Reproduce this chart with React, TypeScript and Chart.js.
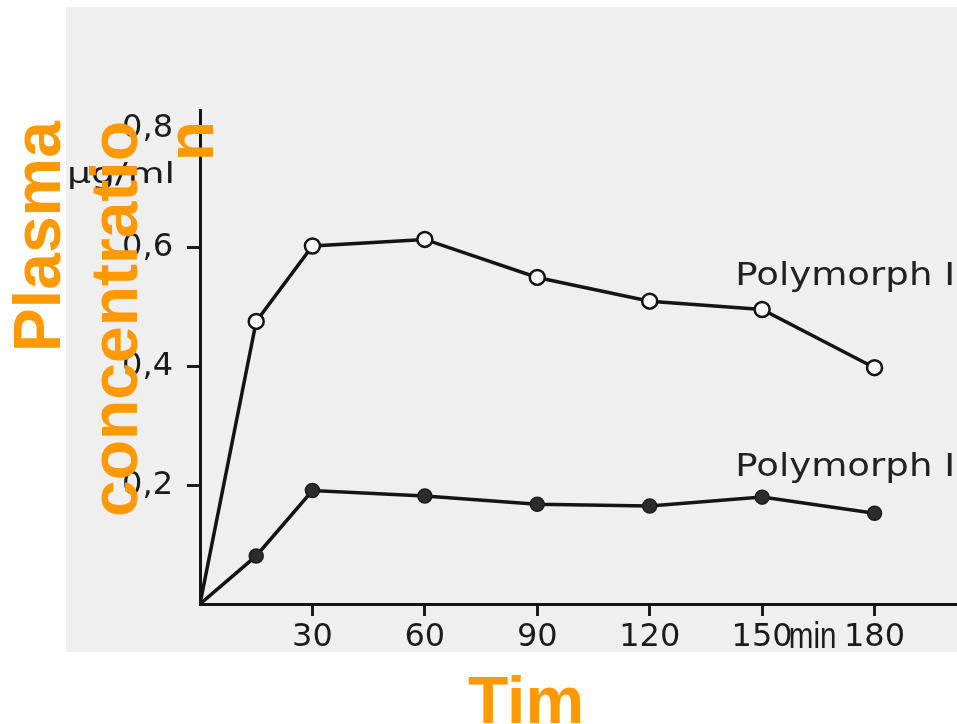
import React, { useEffect, useRef } from "react";
import { Chart, registerables } from "chart.js";

Chart.register(...registerables);

// ---- data ----
const times = [0, 15, 30, 60, 90, 120, 150, 180];
const polymorphII = [0, 0.476, 0.603, 0.614, 0.55, 0.51, 0.496, 0.398];
const polymorphI = [0, 0.081, 0.191, 0.182, 0.168, 0.165, 0.18, 0.153];
const xTickValues = [30, 60, 90, 120, 150, 180];
const yTickValues = [0.2, 0.4, 0.6, 0.8];
const seriesLabels = ["Polymorph II", "Polymorph I"];
const titleLines = ["Plasma", "concentratio", "n"];
const xTitle = "Tim";
const yUnit = "µg/ml";
const xUnit = "min";

const ORANGE = "#FF9900";
const INK = "#1b1b1b";

const decorPlugin = {
  id: "decor",
  beforeDraw(chart: any) {
    const { ctx, chartArea, width, height } = chart;
    ctx.save();
    ctx.fillStyle = "#ffffff";
    ctx.fillRect(0, 0, width, height);
    const left = chartArea.left - 134;
    ctx.fillStyle = "#efefef";
    ctx.fillRect(left, 7, width - left, chartArea.bottom + 48 - 7);
    ctx.restore();
  },
  afterDraw(chart: any) {
    const { ctx } = chart;
    const xs = chart.scales.x;
    const ys = chart.scales.y;
    ctx.save();

    // y unit label
    ctx.fillStyle = INK;
    ctx.textBaseline = "alphabetic";
    ctx.save();
    ctx.font = "28px 'DejaVu Sans'";
    ctx.translate(xs.left - 25, ys.getPixelForValue(0.8) + 54);
    ctx.scale(1.35, 1);
    ctx.textAlign = "right";
    ctx.fillText(yUnit, 0, 0);
    ctx.restore();

    // x unit label
    ctx.save();
    ctx.font = "37px 'Liberation Sans'";
    ctx.translate(xs.getPixelForValue(163.5), ys.bottom + 44);
    ctx.scale(0.8, 1);
    ctx.textAlign = "center";
    ctx.fillText(xUnit, 0, 0);
    ctx.restore();

    // series labels
    const labelPos = [
      { x: 142.8, y: 0.537 },
      { x: 142.8, y: 0.2155 },
    ];
    ctx.font = "32px 'DejaVu Sans'";
    ctx.textAlign = "left";
    seriesLabels.forEach((t, i) => {
      ctx.save();
      ctx.translate(xs.getPixelForValue(labelPos[i].x), ys.getPixelForValue(labelPos[i].y));
      ctx.scale(1.16, 1);
      ctx.fillStyle = "#222";
      ctx.fillText(t, 0, 0);
      ctx.restore();
    });

    // orange overlay titles
    ctx.fillStyle = ORANGE;
    ctx.font = "bold 66px 'Liberation Sans'";
    const baselines = [60, 137, 213];
    titleLines.forEach((t, i) => {
      ctx.save();
      ctx.translate(baselines[i], 121);
      ctx.rotate(-Math.PI / 2);
      ctx.textAlign = "right";
      ctx.textBaseline = "alphabetic";
      ctx.fillText(t, 0, 0);
      ctx.restore();
    });
    ctx.textAlign = "center";
    ctx.textBaseline = "alphabetic";
    ctx.fillText(xTitle, 526, 723);

    ctx.restore();
  },
};

export default function App() {
  const ref = useRef<HTMLCanvasElement | null>(null);

  useEffect(() => {
    if (!ref.current) return;
    const chart = new Chart(ref.current, {
      type: "line",
      data: {
        datasets: [
          {
            label: seriesLabels[0],
            data: times.map((t, i) => ({ x: t, y: polymorphII[i] })),
            borderColor: "#141414",
            borderWidth: 3.5,
            tension: 0,
            pointRadius: (c: any) => (c.dataIndex === 0 ? 0 : 7.5),
            pointBackgroundColor: "#fbfbfb",
            pointBorderColor: "#141414",
            pointBorderWidth: 2.5,
          },
          {
            label: seriesLabels[1],
            data: times.map((t, i) => ({ x: t, y: polymorphI[i] })),
            borderColor: "#141414",
            borderWidth: 3.5,
            tension: 0,
            pointRadius: (c: any) => (c.dataIndex === 0 ? 0 : 7),
            pointBackgroundColor: "#2c2c2c",
            pointBorderColor: "#1c1c1c",
            pointBorderWidth: 1.5,
          },
        ],
      },
      options: {
        responsive: false,
        animation: false,
        devicePixelRatio: 1,
        layout: { autoPadding: false, padding: { top: 110, left: 0, right: 0, bottom: 0 } },
        plugins: {
          legend: { display: false },
          tooltip: { enabled: false },
          title: { display: false },
        },
        scales: {
          x: {
            type: "linear",
            min: 0,
            max: 202,
            afterFit: (s: any) => {
              s.height = 120;
              s.paddingLeft = 0;
              s.paddingRight = 0;
            },
            afterBuildTicks: (s: any) => {
              s.ticks = xTickValues.map((v) => ({ value: v }));
            },
            grid: {
              display: true,
              drawOnChartArea: false,
              drawTicks: true,
              tickLength: 12,
              tickWidth: 3,
              tickColor: "#1c1c1c",
            },
            border: { display: true, color: "#151515", width: 3 },
            ticks: {
              color: INK,
              font: { family: "'DejaVu Sans'", size: 32 },
              padding: 2,
              maxRotation: 0,
              autoSkip: false,
              callback: (v: any) => String(v),
            },
          },
          y: {
            type: "linear",
            min: 0,
            max: 0.832,
            afterFit: (s: any) => {
              s.width = 200;
            },
            afterBuildTicks: (s: any) => {
              s.ticks = yTickValues.map((v) => ({ value: v }));
            },
            grid: {
              display: true,
              drawOnChartArea: false,
              drawTicks: true,
              tickLength: 13,
              tickWidth: 3,
              tickColor: "#1c1c1c",
            },
            border: { display: true, color: "#151515", width: 3 },
            ticks: {
              color: INK,
              font: { family: "'DejaVu Sans'", size: 32 },
              padding: 14,
              autoSkip: false,
              callback: (v: any) => Number(v).toFixed(1).replace(".", ","),
            },
          },
        },
      },
      plugins: [decorPlugin],
    } as any);
    return () => chart.destroy();
  }, []);

  return (
    <div
      style={{
        position: "fixed",
        left: 0,
        top: 0,
        width: 957,
        height: 724,
        background: "#fff",
      }}
    >
      <canvas ref={ref} width={957} height={724} style={{ display: "block" }} />
    </div>
  );
}
